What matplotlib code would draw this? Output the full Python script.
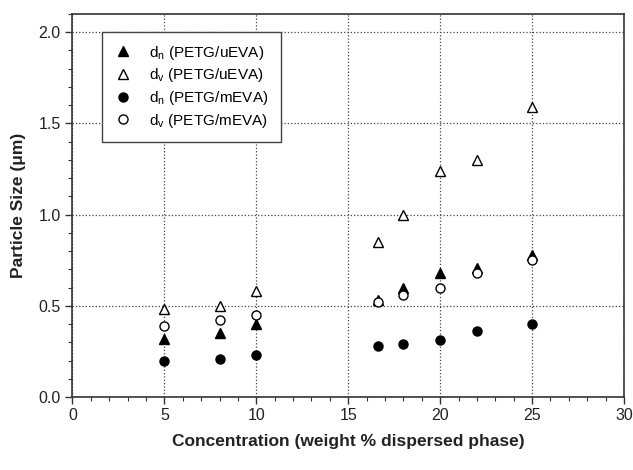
import matplotlib.pyplot as plt
from matplotlib.ticker import MultipleLocator

plt.rcParams["font.family"] = ["Liberation Sans", "DejaVu Sans"]

# concentration of dispersed phase (wt %)
conc = [5, 8, 10, 16.6, 18, 20, 22, 25]

# particle sizes (um)
dn_ueva = [0.32, 0.35, 0.40, 0.53, 0.60, 0.68, 0.71, 0.78]
dv_ueva = [0.48, 0.50, 0.58, 0.85, 1.00, 1.24, 1.30, 1.59]
dn_meva = [0.20, 0.21, 0.23, 0.28, 0.29, 0.31, 0.36, 0.40]
dv_meva = [0.39, 0.42, 0.45, 0.52, 0.56, 0.60, 0.68, 0.75]

labels = [
    r"d$_\mathregular{n}$ (PETG/uEVA)",
    r"d$_\mathregular{v}$ (PETG/uEVA)",
    r"d$_\mathregular{n}$ (PETG/mEVA)",
    r"d$_\mathregular{v}$ (PETG/mEVA)",
]

fig = plt.figure(figsize=(6.33, 4.70), dpi=100)
ax = fig.add_axes([0.1145, 0.1553, 0.8713, 0.8149])

ax.plot(conc, dn_ueva, ls="none", marker="^", ms=7, mfc="black", mec="black", label=labels[0], zorder=3)
ax.plot(conc, dv_ueva, ls="none", marker="^", ms=7, mfc="white", mec="black", mew=1.0, label=labels[1], zorder=3)
ax.plot(conc, dn_meva, ls="none", marker="o", ms=6.5, mfc="black", mec="black", label=labels[2], zorder=3)
ax.plot(conc, dv_meva, ls="none", marker="o", ms=6.5, mfc="white", mec="black", mew=1.0, label=labels[3], zorder=4)

ax.set_xlim(0, 30)
ax.set_ylim(0, 2.1)
ax.xaxis.set_major_locator(MultipleLocator(5))
ax.xaxis.set_minor_locator(MultipleLocator(1))
ax.yaxis.set_major_locator(MultipleLocator(0.5))
ax.yaxis.set_minor_locator(MultipleLocator(0.1))
ax.yaxis.set_major_formatter(plt.FormatStrFormatter("%.1f"))

ax.tick_params(which="both", direction="out", colors="#333333", labelcolor="#222222", labelsize=11.5)
ax.tick_params(which="major", length=5, width=1.0)
ax.tick_params(which="minor", length=3, width=0.8)
ax.tick_params(axis="x", pad=3)

for s in ax.spines.values():
    s.set_color("#333333")
    s.set_linewidth(1.2)

ax.grid(True, which="major", ls=":", color="#444444", lw=0.9)
ax.set_axisbelow(True)

ax.set_xlabel("Concentration (weight % dispersed phase)", fontsize=12.5, fontweight="bold", labelpad=8, color="#222222")
ax.set_ylabel("Particle Size (\u03bcm)", fontsize=12.5, fontweight="bold", labelpad=9, color="#222222")

leg = ax.legend(loc="upper left", bbox_to_anchor=(0.053, 0.954), borderaxespad=0,
                fancybox=False, edgecolor="#444444", framealpha=1, fontsize=11,
                handlelength=1.2, handletextpad=1.1, borderpad=0.8, labelspacing=0.3)
leg.get_frame().set_linewidth(1.0)

fig.savefig("out.png", dpi=100)
